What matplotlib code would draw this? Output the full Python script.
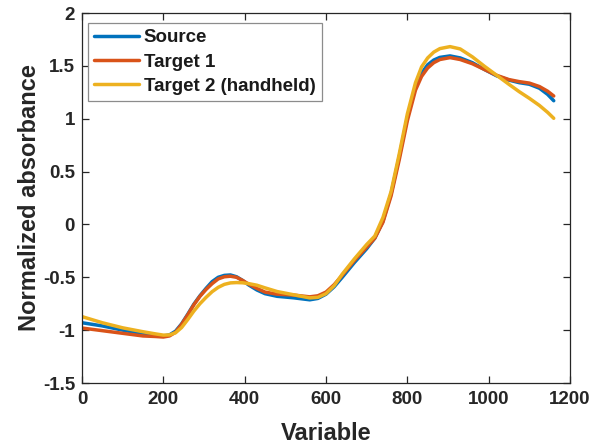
import matplotlib
matplotlib.use("Agg")
import matplotlib.pyplot as plt

# ── Data ─────────────────────────────────────────────────────────────────────
variable = [0, 50, 100, 150, 180, 200, 215, 230, 245, 260, 275, 290, 305, 320,
            335, 350, 365, 380, 395, 410, 430, 450, 480, 520, 560, 580, 600,
            620, 640, 670, 700, 720, 740, 760, 780, 800, 820, 835, 850, 865,
            880, 905, 930, 960, 990, 1020, 1050, 1075, 1100, 1125, 1145, 1160]

source = [-0.93, -0.96, -1.00, -1.036, -1.05, -1.056, -1.045, -1.01, -0.94,
          -0.85, -0.755, -0.675, -0.605, -0.541, -0.50, -0.482, -0.478, -0.495,
          -0.53, -0.573, -0.62, -0.655, -0.68, -0.694, -0.713, -0.70, -0.66,
          -0.59, -0.50, -0.36, -0.23, -0.13, 0.03, 0.29, 0.64, 1.01, 1.30,
          1.43, 1.51, 1.555, 1.58, 1.594, 1.575, 1.53, 1.465, 1.405, 1.365,
          1.341, 1.326, 1.288, 1.23, 1.17]

target1 = [-0.98, -1.005, -1.03, -1.055, -1.06, -1.065, -1.055, -1.02, -0.945,
           -0.855, -0.76, -0.68, -0.615, -0.56, -0.515, -0.495, -0.49, -0.50,
           -0.53, -0.565, -0.605, -0.64, -0.66, -0.668, -0.685, -0.675, -0.64,
           -0.57, -0.48, -0.34, -0.215, -0.13, 0.02, 0.27, 0.61, 0.98, 1.27,
           1.40, 1.48, 1.53, 1.56, 1.578, 1.56, 1.52, 1.465, 1.41, 1.37, 1.351,
           1.337, 1.304, 1.26, 1.215]

target2 = [-0.872, -0.93, -0.978, -1.015, -1.035, -1.047, -1.045, -1.025,
           -0.975, -0.90, -0.82, -0.75, -0.69, -0.636, -0.595, -0.567, -0.553,
           -0.55, -0.552, -0.56, -0.575, -0.60, -0.635, -0.665, -0.695, -0.69,
           -0.655, -0.58, -0.47, -0.325, -0.19, -0.11, 0.065, 0.31, 0.665,
           1.045, 1.34, 1.49, 1.575, 1.63, 1.663, 1.682, 1.66, 1.585, 1.495,
           1.41, 1.325, 1.256, 1.193, 1.125, 1.06, 1.004]

labels = ["Source", "Target 1", "Target 2 (handheld)"]
colors = ["#0072BD", "#D95319", "#EDB120"]

# ── Figure ───────────────────────────────────────────────────────────────────
plt.rcParams["font.family"] = ["Liberation Sans", "DejaVu Sans"]
plt.rcParams["font.weight"] = "bold"

fig = plt.figure(figsize=(5.92, 4.46), dpi=100)
ax = fig.add_axes([82 / 592, 63 / 446, 488 / 592, 370 / 446])

for ys, lab, col in zip([source, target1, target2], labels, colors):
    ax.plot(variable, ys, color=col, lw=2.5, label=lab,
            solid_joinstyle="round", solid_capstyle="round")

ax.set_xlim(0, 1200)
ax.set_ylim(-1.5, 2)
ax.set_xticks([0, 200, 400, 600, 800, 1000, 1200])
ax.set_yticks([-1.5, -1, -0.5, 0, 0.5, 1, 1.5, 2])
ax.set_yticklabels(["-1.5", "-1", "-0.5", "0", "0.5", "1", "1.5", "2"])

for s in ax.spines.values():
    s.set_color("#262626")
    s.set_linewidth(0.9)
ax.tick_params(direction="in", top=True, right=True, length=5, width=0.9,
               color="#262626", labelsize=13.5, labelcolor="#262626", pad=5)
ax.tick_params(axis="x", pad=6)

ax.set_xlabel("Variable", fontsize=17, fontweight="bold", color="#262626",
              labelpad=10)
ax.set_ylabel("Normalized absorbance", fontsize=17, fontweight="bold",
              color="#262626", labelpad=1)

leg = ax.legend(loc="upper left", bbox_to_anchor=(6 / 488, 1 - 10 / 370),
                borderaxespad=0, fontsize=13.5, handlelength=2.4,
                handletextpad=0.25, labelspacing=0.38, borderpad=0.33,
                fancybox=False, framealpha=1)
leg.get_frame().set_edgecolor("#8c8c8c")
leg.get_frame().set_linewidth(0.9)
for t in leg.get_texts():
    t.set_color("#1a1a1a")

fig.savefig("out.png", dpi=100, facecolor="white")
